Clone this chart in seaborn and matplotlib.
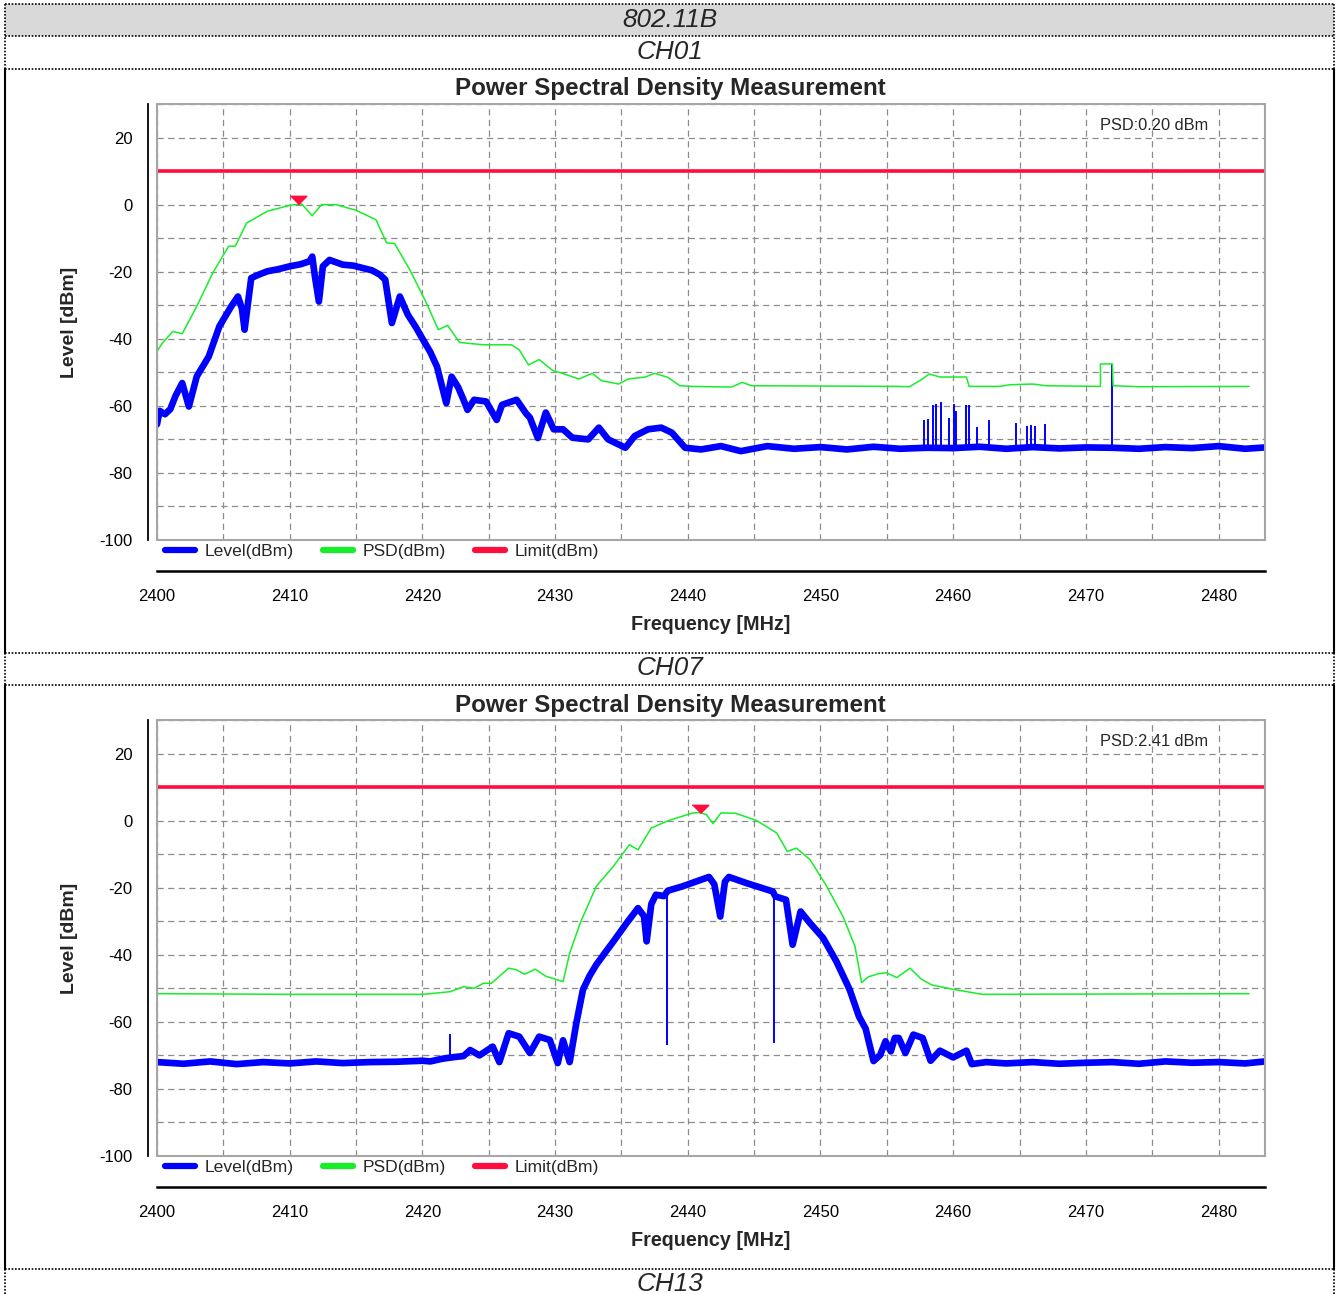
import numpy as np
import pandas as pd
import matplotlib.pyplot as plt
import seaborn as sns
from matplotlib.lines import Line2D
from matplotlib.patches import Rectangle

# ---------------- data ----------------
limit_freq = [2400.0, 2483.5]
limit_val = [10.0, 10.0]

# CH01
ch01_lvl_f = [2400.0, 2400.2, 2400.6, 2401.0, 2401.4, 2401.9, 2402.4, 2403.0, 2403.9, 2404.7,
              2405.6, 2406.1, 2406.4, 2406.6, 2407.1, 2407.6, 2408.3, 2409.2, 2410.0, 2410.8,
              2411.5, 2411.7, 2411.9, 2412.2, 2412.5, 2413.0, 2414.0, 2414.8, 2415.5, 2416.2,
              2416.8, 2417.2, 2417.7, 2418.3, 2418.9, 2419.5, 2420.05, 2420.6, 2421.1, 2421.8,
              2422.2, 2422.7, 2423.1, 2423.4, 2423.9, 2424.8, 2425.6, 2426.0, 2427.1, 2427.8,
              2428.1, 2428.7, 2429.3, 2429.9, 2430.6, 2431.3, 2432.5, 2433.3, 2434.0, 2435.3,
              2436.0, 2437.0, 2438.0, 2438.8, 2439.8, 2441.0, 2442.5, 2444.0, 2446.0, 2448.0,
              2450.0, 2452.0, 2454.0, 2456.0, 2458.0, 2460.0, 2462.0, 2464.0, 2466.0, 2468.0,
              2470.0, 2472.0, 2474.0, 2476.0, 2478.0, 2480.0, 2482.0, 2483.5]
ch01_lvl = [-65.5, -61.5, -62.5, -61.0, -57.0, -53.2, -60.2, -51.2, -45.3, -36.3,
            -30.3, -27.4, -31.0, -37.3, -21.9, -21.0, -19.9, -19.2, -18.4, -17.8,
            -16.9, -15.5, -21.4, -28.9, -18.4, -16.5, -17.9, -18.2, -18.9, -19.6,
            -20.9, -22.4, -35.3, -27.4, -32.8, -36.5, -40.3, -44.0, -48.3, -59.2,
            -51.3, -54.5, -58.2, -61.2, -58.2, -58.7, -64.2, -59.7, -58.2, -62.2,
            -63.5, -69.6, -62.0, -67.0, -67.0, -69.5, -70.0, -66.5, -70.0, -72.5,
            -69.0, -67.0, -66.5, -68.0, -72.5, -73.0, -72.0, -73.5, -72.0, -72.8,
            -72.3, -73.0, -72.2, -72.8, -72.5, -72.6, -72.2, -72.8, -72.3, -72.7,
            -72.4, -72.5, -72.8, -72.3, -72.6, -72.0, -72.8, -72.4]
ch01_spk_f = [2457.8, 2458.1, 2458.5, 2458.7, 2459.1, 2459.7, 2460.1, 2460.2, 2461.0, 2461.2,
              2461.8, 2462.7, 2464.7, 2465.6, 2465.9, 2466.2, 2466.9, 2472.0]
ch01_spk_hi = [-64.2, -64.0, -59.7, -59.5, -59.0, -63.7, -59.4, -61.5, -59.7, -59.7,
               -66.2, -64.2, -65.2, -66.0, -65.7, -66.0, -65.5, -47.5]
ch01_spk_lo = [-72.5] * 18

ch01_psd_f = [2400.0, 2400.4, 2401.2, 2401.9, 2403.0, 2404.2, 2405.4, 2405.9, 2406.75, 2408.3,
              2410.0, 2410.9, 2411.7, 2412.4, 2413.5, 2415.0, 2416.5, 2417.3, 2417.9, 2419.05,
              2420.3, 2421.2, 2421.9, 2422.8, 2424.6, 2425.6, 2426.7, 2427.3, 2428.0, 2428.8,
              2429.8, 2430.3, 2431.8, 2432.8, 2433.5, 2434.8, 2435.5, 2436.8, 2437.5, 2438.5,
              2439.4, 2440.3, 2443.3, 2444.1, 2444.8, 2455.9, 2456.7, 2457.6, 2458.2, 2459.0,
              2461.0, 2461.2, 2463.5, 2464.3, 2466.0, 2467.0, 2471.1, 2471.1, 2472.0, 2472.05,
              2474.0, 2482.3]
ch01_psd = [-43.8, -41.3, -37.8, -38.5, -30.3, -20.4, -12.4, -12.4, -5.5, -2.0,
            -0.2, 0.2, -3.3, 0.0, 0.0, -1.7, -4.5, -11.4, -11.6, -19.4,
            -29.3, -37.3, -36.0, -41.1, -41.8, -41.8, -41.8, -43.3, -47.8, -46.2,
            -49.4, -50.0, -52.0, -50.3, -52.5, -53.5, -52.0, -51.4, -50.3, -51.5,
            -54.0, -54.2, -54.4, -53.0, -54.0, -54.2, -54.3, -52.2, -50.5, -51.4,
            -51.4, -54.2, -54.2, -53.7, -53.5, -54.0, -54.2, -47.5, -47.5, -54.0,
            -54.3, -54.2]
ch01_peak_f, ch01_peak_v = 2410.6, 0.20

# CH07
ch07_lvl_f = [2400.0, 2402.0, 2404.0, 2406.0, 2408.0, 2410.0, 2412.0, 2414.0, 2416.0, 2418.0,
              2420.0, 2420.6, 2421.5, 2422.4, 2423.1, 2423.6, 2424.3, 2425.3, 2425.8, 2426.5,
              2427.3, 2428.1, 2428.8, 2429.6, 2430.2, 2430.6, 2431.1, 2431.6, 2432.1, 2432.6,
              2433.1, 2433.8, 2434.4, 2435.4, 2436.25, 2436.7, 2436.9, 2437.25, 2437.6, 2438.2,
              2438.5, 2439.6, 2440.6, 2441.6, 2442.0, 2442.45, 2442.8, 2443.1, 2444.4, 2445.6,
              2446.4, 2446.6, 2447.4, 2447.9, 2448.5, 2449.2, 2450.2, 2451.2, 2452.2, 2452.9,
              2453.4, 2454.0, 2454.5, 2454.9, 2455.3, 2455.6, 2455.9, 2456.4, 2457.0, 2457.7,
              2458.3, 2459.0, 2460.0, 2461.0, 2461.4, 2462.5, 2464.0, 2466.0, 2468.0, 2470.0,
              2472.0, 2474.0, 2476.0, 2478.0, 2480.0, 2482.0, 2483.5]
ch07_lvl = [-72.0, -72.5, -71.8, -72.6, -72.0, -72.4, -71.8, -72.3, -72.0, -71.9,
            -71.6, -71.8, -71.0, -70.5, -70.2, -68.4, -70.0, -67.4, -72.0, -63.4,
            -64.4, -69.3, -64.4, -65.4, -72.3, -65.5, -72.0, -60.4, -50.4, -46.3,
            -43.0, -39.2, -36.0, -30.5, -26.1, -28.5, -36.0, -24.9, -22.1, -22.5,
            -20.9, -19.6, -18.2, -16.8, -19.0, -28.6, -18.2, -16.8, -18.6, -20.1,
            -21.1, -22.6, -23.6, -37.0, -27.1, -30.5, -35.0, -42.0, -50.4, -58.4,
            -62.0, -71.7, -69.9, -65.8, -68.8, -64.8, -64.8, -69.3, -63.8, -64.8,
            -71.6, -68.6, -70.6, -68.6, -72.6, -72.0, -72.4, -72.0, -72.5, -72.2,
            -72.0, -72.5, -71.8, -72.2, -72.0, -72.4, -71.8]
ch07_spk_f = [2422.1, 2438.4, 2446.5]
ch07_spk_hi = [-63.6, -21.5, -21.8]
ch07_spk_lo = [-70.8, -66.9, -66.4]

ch07_psd_f = [2400.0, 2410.0, 2420.0, 2420.6, 2422.1, 2423.1, 2423.9, 2424.6, 2425.2, 2426.5,
              2427.1, 2427.7, 2428.5, 2429.3, 2430.6, 2431.1, 2431.9, 2433.1, 2434.4, 2435.6,
              2436.25, 2437.25, 2438.6, 2440.4, 2440.9, 2441.4, 2441.9, 2442.5, 2443.6, 2445.2,
              2446.7, 2447.5, 2448.2, 2449.2, 2450.4, 2451.7, 2452.6, 2453.1, 2453.6, 2454.4,
              2455.0, 2455.75, 2456.75, 2457.6, 2458.4, 2460.0, 2462.2, 2482.3]
ch07_psd = [-51.6, -51.8, -51.8, -51.6, -51.0, -49.5, -50.0, -48.5, -48.5, -44.0,
            -44.5, -45.8, -44.3, -46.4, -48.0, -39.5, -30.5, -19.6, -13.6, -7.2,
            -8.7, -2.2, 0.1, 2.3, 2.4, 1.8, -0.9, 2.3, 2.2, 0.0,
            -3.7, -9.2, -8.2, -11.6, -19.1, -28.6, -37.5, -48.3, -46.6, -45.6,
            -45.4, -46.8, -44.0, -47.3, -49.0, -50.3, -51.8, -51.6]
ch07_peak_f, ch07_peak_v = 2440.9, 2.41

# ---------------- style ----------------
sns.set_style('white')
plt.rcParams['font.family'] = ['Liberation Sans', 'DejaVu Sans']
plt.rcParams['axes.unicode_minus'] = False

BLUE = '#0000ff'
GREEN = '#16ee2a'
RED = '#ff0d3d'
GRID = '#8c8c8c'
TICK_FS = 12.0

W, H = 1341, 1294
fig = plt.figure(figsize=(W / 100, H / 100), dpi=100)


def fx(px):
    return px / W


def fy(py):
    return 1 - py / H


def hline(py, x0=5, x1=1334, ls=(0, (1, 1)), lw=1.2):
    fig.add_artist(Line2D([fx(x0), fx(x1)], [fy(py), fy(py)], color='black',
                          lw=lw, ls=ls, transform=fig.transFigure))


def vline(px, y0, y1, ls='-', lw=1.5):
    fig.add_artist(Line2D([fx(px), fx(px)], [fy(y0), fy(y1)], color='black',
                          lw=lw, ls=ls, transform=fig.transFigure))


# table frame
fig.add_artist(Rectangle((fx(5), fy(36)), fx(1334) - fx(5), fy(4) - fy(36),
                         transform=fig.transFigure, facecolor='#d9d9d9', edgecolor='none'))
for py in [4, 36, 69, 653, 685, 1269]:
    hline(py)
for px in [5, 1334]:
    vline(px, 4, 69, ls=(0, (1, 1)), lw=1.2)
    vline(px, 69, 653)
    vline(px, 653, 685, ls=(0, (1, 1)), lw=1.2)
    vline(px, 685, 1269)
    vline(px, 1269, 1294, ls=(0, (1, 1)), lw=1.2)

cell_font = dict(style='italic', fontsize=18.8, ha='center', va='center')
fig.text(fx(670), fy(20), '802.11B', **cell_font)
fig.text(fx(670), fy(52), 'CH01', **cell_font)
fig.text(fx(670), fy(668), 'CH07', **cell_font)
fig.text(fx(670), fy(1284), 'CH13', **cell_font)


def psd_chart(top, lvl_f, lvl, spk_f, spk_lo, spk_hi, psd_f, psd, peak_f, peak_v):
    left, right, bottom = 157, 1265, top + 436
    ax = fig.add_axes([fx(left), fy(bottom), fx(right) - fx(left), fy(top) - fy(bottom)])

    lvl_df = pd.DataFrame({'freq': lvl_f, 'level': lvl})
    psd_df = pd.DataFrame({'freq': psd_f, 'psd': psd})
    lim_df = pd.DataFrame({'freq': limit_freq, 'limit': limit_val})

    sns.lineplot(data=lvl_df, x='freq', y='level', color=BLUE, lw=4.8, ax=ax,
                 estimator=None, sort=False, zorder=3)
    ax.vlines(spk_f, spk_lo, spk_hi, color=BLUE, lw=1.4, zorder=3)
    sns.lineplot(data=psd_df, x='freq', y='psd', color=GREEN, lw=1.1, ax=ax,
                 estimator=None, sort=False, zorder=4)
    sns.lineplot(data=lim_df, x='freq', y='limit', color=RED, lw=2.6, ax=ax,
                 estimator=None, sort=False, zorder=5)
    ax.plot([peak_f], [peak_v + 1.1], marker=[(-1.0, 0.5), (1.0, 0.5), (0.0, -0.5)],
            color=RED, markersize=12, ls='none', zorder=6, clip_on=False)

    ax.set_xlim(2400, 2483.5)
    ax.set_ylim(-100, 30)
    ax.set_xticks(np.arange(2400, 2481, 10))
    ax.set_xticks(np.arange(2405, 2481, 10), minor=True)
    ax.set_yticks(np.arange(-100, 21, 20))
    ax.set_yticks(np.arange(-90, 31, 20), minor=True)
    ax.grid(True, which='both', color=GRID, ls=(0, (5, 3.5)), lw=0.9)
    ax.set_axisbelow(True)

    for s in ['top', 'right']:
        ax.spines[s].set_visible(False)
    ax.spines['left'].set_position(('outward', 6.5))
    ax.spines['left'].set_color('black')
    ax.spines['left'].set_linewidth(1.3)
    ax.spines['bottom'].set_position(('outward', 22.5))
    ax.spines['bottom'].set_color('black')
    ax.spines['bottom'].set_linewidth(1.8)
    ax.add_patch(Rectangle((0, 0), 1, 1, transform=ax.transAxes, fill=False,
                           edgecolor='#a6a6a6', lw=1.5, zorder=7, clip_on=False))

    ax.tick_params(axis='x', which='major', direction='out', length=7, width=1.3,
                   pad=6, labelsize=TICK_FS, colors='black')
    ax.tick_params(axis='x', which='minor', direction='out', length=4, width=1.3)
    ax.tick_params(axis='y', which='major', direction='out', length=7, width=1.3,
                   pad=4, labelsize=TICK_FS, colors='black')
    ax.tick_params(axis='y', which='minor', direction='out', length=4.3, width=1.3)
    ax.set_xlabel('')
    ax.set_ylabel('')

    ax.text(0.5, -(624 - 540) / 436, 'Frequency [MHz]', transform=ax.transAxes,
            ha='center', va='center', fontsize=14.2, fontweight='bold')
    ax.text(-(157 - 70) / 1108, 0.5, 'Level [dBm]', transform=ax.transAxes, rotation=90,
            ha='center', va='center', fontsize=14.0, fontweight='bold')
    ax.text((1208 - 157) / 1108, (540 - 126) / 436, 'PSD:%.2f dBm' % peak_v,
            transform=ax.transAxes, ha='right', va='center', fontsize=11.8)
    fig.text(fx(670), fy(top - 15), 'Power Spectral Density Measurement', ha='center',
             va='center', fontsize=17.4, fontweight='bold')

    handles = [Line2D([], [], color=BLUE, lw=4.5), Line2D([], [], color=GREEN, lw=4.5),
               Line2D([], [], color=RED, lw=4.5)]
    ax.legend(handles, ['Level(dBm)', 'PSD(dBm)', 'Limit(dBm)'], loc='center left',
              bbox_to_anchor=((165 - 157) / 1108, -11 / 436), ncol=3, frameon=False,
              fontsize=12.6, handlelength=1.7, handletextpad=0.57, columnspacing=1.65,
              borderpad=0, borderaxespad=0)
    return ax


psd_chart(104, ch01_lvl_f, ch01_lvl, ch01_spk_f, ch01_spk_lo, ch01_spk_hi,
          ch01_psd_f, ch01_psd, ch01_peak_f, ch01_peak_v)
psd_chart(720, ch07_lvl_f, ch07_lvl, ch07_spk_f, ch07_spk_lo, ch07_spk_hi,
          ch07_psd_f, ch07_psd, ch07_peak_f, ch07_peak_v)

fig.savefig('out.png', dpi=100, facecolor='white')
